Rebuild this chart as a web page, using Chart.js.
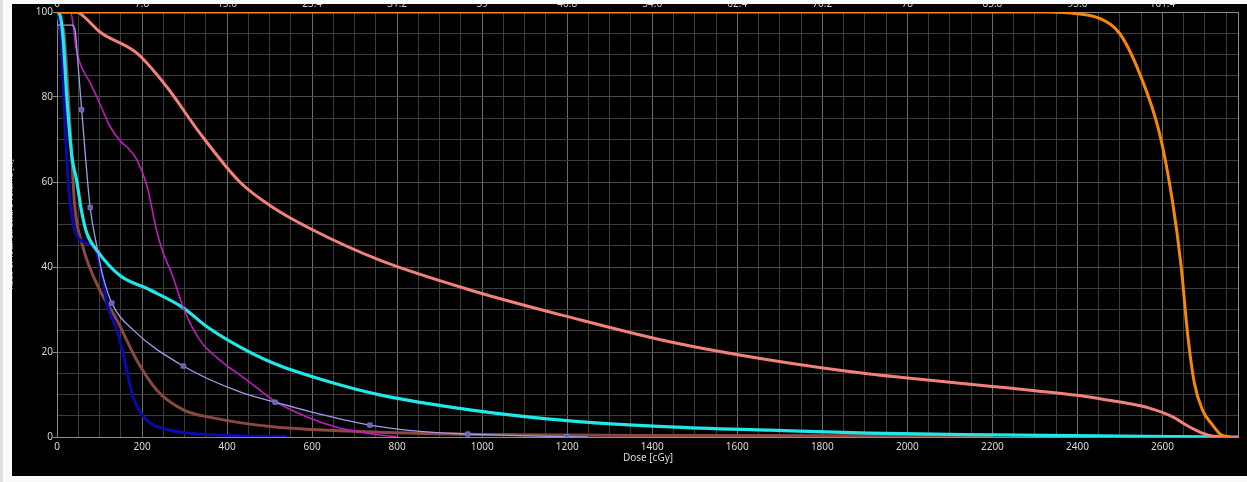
<!DOCTYPE html>
<html>
<head>
<meta charset="utf-8">
<title>Dose Volume Histogram</title>
<script src="https://cdn.jsdelivr.net/npm/chart.js@4.4.1/dist/chart.umd.min.js"></script>
<style>
  html, body { margin: 0; padding: 0; width: 1247px; height: 482px; overflow: hidden; background: #fafafa; }
  #edge { position: absolute; left: 0; top: 0; width: 3px; height: 482px; background: #e0e0e0; }
  #panel { position: absolute; left: 12px; top: 4px; width: 1235px; height: 472px; background: #000; overflow: hidden; }
  #wrap { position: absolute; left: -12px; top: -4px; width: 1247px; height: 482px; }
</style>
</head>
<body>
<div id="edge"></div>
<div id="panel"><div id="wrap"><canvas id="dvh"></canvas></div></div>
<script>
// Axis labels
const doseTicks = [0, 200, 400, 600, 800, 1000, 1200, 1400, 1600, 1800, 2000, 2200, 2400, 2600];
const pctTicks = ['0', '7.8', '15.6', '23.4', '31.2', '39', '46.8', '54.6', '62.4', '70.2', '78', '85.8', '93.6', '101.4'];
const volTicks = [0, 20, 40, 60, 80, 100];
const doseMax = 2780;

// Structure curves: dose [cGy] and volume [%]
const orangeDose = [0, 2330, 2400, 2452, 2499, 2546, 2593, 2623, 2644, 2659, 2675, 2694, 2718, 2738, 2760];
const orangeVol  = [100, 100, 99.6, 98.5, 95.0, 85.6, 71.5, 55.8, 40.1, 24.4, 12.7, 6.4, 2.8, 0.5, 0];

const salmonDose = [0, 47, 60, 101, 188, 258, 336, 430, 508, 602, 759, 971, 1206, 1441, 1676, 1911, 2000, 2100, 2200, 2300, 2400, 2459, 2520, 2569, 2623, 2663, 2694, 2720, 2780];
const salmonVol  = [100, 100, 99.2, 95.3, 90.3, 82.4, 71.5, 60, 54, 48.7, 41.6, 34.6, 28.2, 22.4, 18.1, 14.8, 13.9, 12.9, 11.9, 10.9, 9.8, 8.9, 7.9, 6.8, 4.8, 2.4, 0.9, 0.2, 0];

const cyanDose = [0, 8, 15, 23, 35, 46, 58, 70, 97, 148, 219, 297, 352, 430, 508, 626, 759, 971, 1206, 1441, 1676, 1911, 2200, 2450, 2700, 2740];
const cyanVol  = [100, 99, 93, 80, 66, 60.5, 53, 48, 43.5, 38, 34.6, 30.4, 26, 21.2, 17.4, 13.4, 9.9, 6.4, 3.8, 2.4, 1.6, 0.9, 0.5, 0.25, 0.05, 0];

const blueDose = [0, 9, 16, 26, 38, 49, 70, 89, 108, 117, 141, 155, 179, 211, 249, 313, 430, 541];
const blueVol  = [100, 95, 80, 60.5, 50.3, 47, 45.6, 44.5, 37, 31.5, 25.2, 19.8, 9.4, 4, 2, 0.9, 0.3, 0.1];

const brownDose = [0, 15, 19, 27, 38, 42, 61, 97, 141, 188, 235, 297, 367, 508, 743, 1000, 1500, 2200];
const brownVol  = [96.2, 96.2, 92, 80, 60, 54, 44.7, 35.3, 27.5, 18, 11, 6.4, 4.5, 2.4, 1.2, 0.6, 0.35, 0.25];

const lavenderDose = [0, 35, 42, 50, 58, 78, 94, 106, 129, 179, 297, 430, 513, 626, 736, 853, 966, 1199, 1248];
const lavenderVol  = [96.9, 96.9, 96, 87, 77, 54, 44.7, 38.6, 31.5, 25.2, 16.7, 10.6, 8.2, 5.2, 2.8, 1.3, 0.7, 0.1, 0];
const lavenderMarks = [58, 78, 129, 297, 513, 736, 966, 1199];

const magentaDose = [0, 32, 38, 44, 54, 78, 97, 125, 153, 167, 188, 212, 234, 246, 273, 297, 336, 383, 447, 508, 588, 665, 743, 802];
const magentaVol  = [100, 100, 97, 92, 88, 83.3, 79.3, 73, 69.2, 68, 65.2, 59, 48.7, 44.4, 37.6, 30.4, 22.8, 18.1, 13.4, 8.7, 4.7, 2.1, 0.7, 0];

const zip = (xs, ys) => xs.map((x, i) => ({ x: x, y: ys[i] }));

function curve(dose, vol, color, width) {
  return {
    data: zip(dose, vol),
    borderColor: color,
    backgroundColor: color,
    borderWidth: width,
    pointRadius: 0,
    pointHoverRadius: 0,
    fill: false,
    cubicInterpolationMode: 'monotone'
  };
}

const lavender = curve(lavenderDose, lavenderVol, '#9d9de8', 1.3);
lavender.pointStyle = 'rect';
lavender.pointRadius = ctx => (ctx.raw && lavenderMarks.includes(ctx.raw.x)) ? 3 : 0;
lavender.pointBackgroundColor = '#5f5fb0';
lavender.pointBorderColor = '#7878c8';
lavender.pointBorderWidth = 1;

// First dataset is painted last (on top)
const datasets = [
  curve(orangeDose, orangeVol, '#f7860f', 3),
  curve(salmonDose, salmonVol, '#f2817b', 3),
  lavender,
  curve(magentaDose, magentaVol, '#c21ac2', 1.6),
  curve(cyanDose, cyanVol, '#20e8e8', 3.2),
  curve(blueDose, blueVol, '#0a0aa8', 3),
  curve(brownDose, brownVol, '#8a4842', 3)
];

const doseGrid = [];
for (let d = 0; d <= 2750; d += 50) doseGrid.push(d);
const volGrid = [];
for (let v = 0; v <= 100; v += 5) volGrid.push(v);

const frame = {
  id: 'frame',
  beforeDatasetsDraw(chart) {
    const a = chart.chartArea, c = chart.ctx;
    c.save();
    c.strokeStyle = '#8c8c8c';
    c.lineWidth = 1;
    c.strokeRect(Math.round(a.left) + 0.5, Math.round(a.top) + 0.5, Math.round(a.right - a.left) - 1, Math.round(a.bottom - a.top));
    c.restore();
  }
};

const tickFont = { family: "'Noto Sans', 'Open Sans', sans-serif", size: 10 };

new Chart(document.getElementById('dvh'), {
  type: 'line',
  data: { datasets: datasets },
  plugins: [frame],
  options: {
    responsive: true,
    maintainAspectRatio: false,
    animation: false,
    events: [],
    layout: { padding: { left: 0, right: 8, top: 0, bottom: 0 } },
    plugins: { legend: { display: false }, tooltip: { enabled: false } },
    scales: {
      x: {
        type: 'linear', position: 'bottom', min: 0, max: doseMax,
        afterFit: s => { s.height = 45; },
        afterBuildTicks: s => { s.ticks = doseGrid.map(v => ({ value: v })); },
        ticks: {
          autoSkip: false, maxRotation: 0, minRotation: 0, padding: 4,
          color: '#d8d8d8', font: tickFont,
          callback: v => doseTicks.includes(v) ? String(v) : ''
        },
        grid: {
          drawTicks: false,
          lineWidth: 1,
          color: ctx => (ctx.tick && doseTicks.includes(ctx.tick.value)) ? '#6c6c6c' : '#3c3c3c'
        },
        border: { display: false },
        title: {
          display: true, text: 'Dose [cGy]', color: '#dadada',
          font: tickFont, padding: { top: 0, bottom: 18 }
        }
      },
      x2: {
        type: 'linear', position: 'top', min: 0, max: doseMax,
        afterFit: s => { s.height = 12; },
        afterBuildTicks: s => { s.ticks = doseTicks.map(v => ({ value: v })); },
        ticks: {
          autoSkip: false, maxRotation: 0, minRotation: 0, padding: 2,
          color: '#d0d0d0', font: tickFont,
          callback: (v, i) => pctTicks[i]
        },
        grid: { display: false, drawTicks: false },
        border: { display: false }
      },
      y: {
        type: 'linear', position: 'left', min: 0, max: 100,
        afterFit: s => { s.width = 57; },
        afterBuildTicks: s => { s.ticks = volGrid.map(v => ({ value: v })); },
        ticks: {
          autoSkip: false, padding: 0,
          color: '#d8d8d8', font: tickFont,
          callback: v => volTicks.includes(v) ? String(v) : ''
        },
        grid: {
          drawTicks: true, tickLength: 4, lineWidth: 1,
          color: ctx => (ctx.tick && volTicks.includes(ctx.tick.value)) ? '#4c4c4c' : '#3c3c3c',
          tickColor: ctx => (ctx.tick && volTicks.includes(ctx.tick.value)) ? '#8c8c8c' : 'rgba(0,0,0,0)'
        },
        border: { display: false },
        title: {
          display: true, text: 'Ratio of Total Structure Volume [%]', color: '#b8b8b8',
          font: { family: "'Noto Sans', sans-serif", size: 8 }, padding: { top: 6, bottom: 0 }
        }
      }
    }
  }
});
</script>
</body>
</html>
